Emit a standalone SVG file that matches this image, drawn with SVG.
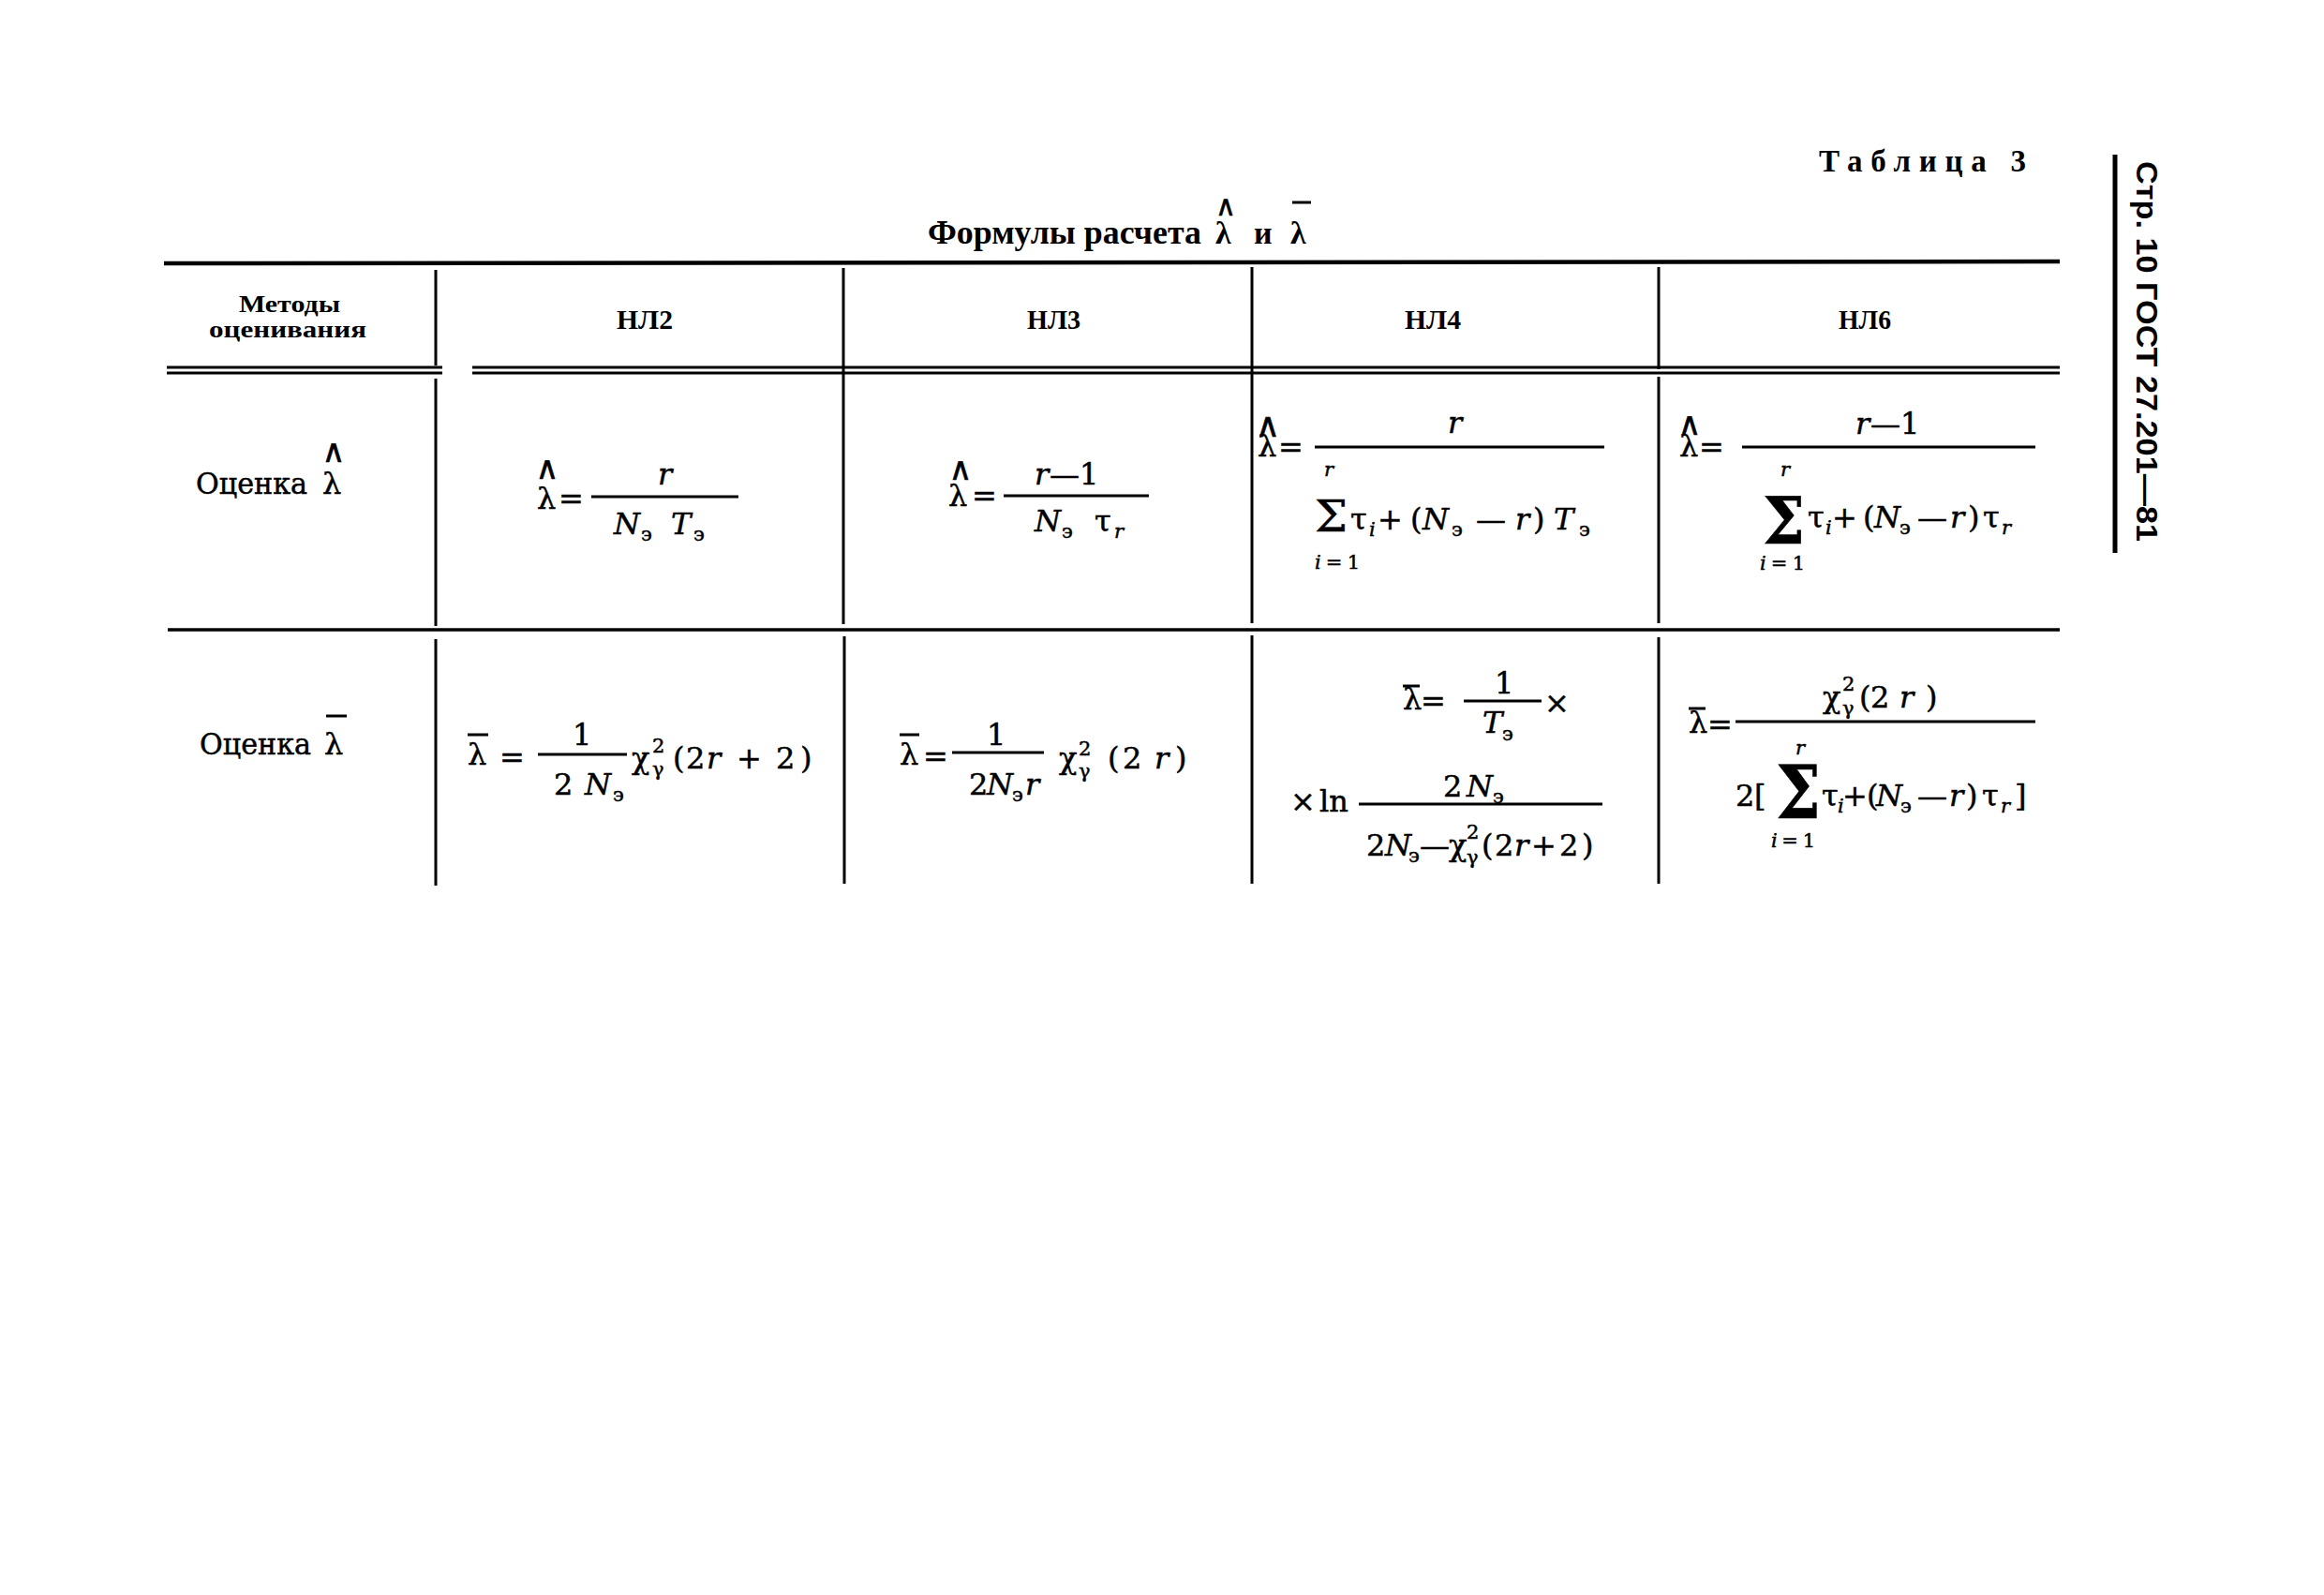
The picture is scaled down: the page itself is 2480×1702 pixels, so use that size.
<svg xmlns="http://www.w3.org/2000/svg" width="2480" height="1702" viewBox="0 0 2480 1702">
<style>
.t{font-family:"DejaVu Serif",serif;font-size:32px;fill:#000;stroke:#000;stroke-width:0.5}
.i{font-style:italic}
.s{font-size:21px}
.hb{font-family:"Liberation Serif",serif;font-weight:bold;font-size:30px;fill:#000}
.hat{font-family:"DejaVu Sans",sans-serif;font-size:34px;text-anchor:middle;fill:#000;stroke:#000;stroke-width:0.6}
.ln line{stroke:#000;fill:none}
.fr{stroke:#000;stroke-width:3}
</style>
<rect width="2480" height="1702" fill="#fff"/>

<g id="table-lines" class="ln">
<line x1="175" y1="281" x2="2198" y2="279" stroke-width="4.5"/>
<line x1="178" y1="392" x2="472" y2="392" stroke-width="3"/>
<line x1="178" y1="398" x2="472" y2="398" stroke-width="3"/>
<line x1="504" y1="392" x2="2198" y2="392" stroke-width="3"/>
<line x1="504" y1="398" x2="2198" y2="398" stroke-width="3"/>
<line x1="179" y1="672" x2="2198" y2="672" stroke-width="3.5"/>
<line x1="465" y1="288" x2="465" y2="390" stroke-width="3"/>
<line x1="465" y1="404" x2="465" y2="668" stroke-width="3"/>
<line x1="465" y1="682" x2="465" y2="945" stroke-width="3"/>
<line x1="900" y1="286" x2="900" y2="666" stroke-width="3"/>
<line x1="901" y1="679" x2="901" y2="943" stroke-width="3"/>
<line x1="1336" y1="285" x2="1336" y2="665" stroke-width="3"/>
<line x1="1336" y1="678" x2="1336" y2="943" stroke-width="3"/>
<line x1="1770" y1="285" x2="1770" y2="394" stroke-width="3"/>
<line x1="1770" y1="402" x2="1770" y2="665" stroke-width="3"/>
<line x1="1770" y1="680" x2="1770" y2="943" stroke-width="3"/>
<line x1="2257" y1="165" x2="2257" y2="590" stroke-width="5"/>
</g>

<g id="page-header">
<text class="hb" x="1941" y="183" style="font-size:33px" textLength="221" lengthAdjust="spacing">Таблица 3</text>
<text transform="translate(2280,172) rotate(90)" font-family="Liberation Sans, sans-serif" font-size="32" font-weight="bold" textLength="406" lengthAdjust="spacingAndGlyphs">Стр. 10 ГОСТ 27.201—81</text>
</g>

<g id="title">
<text class="hb" x="990" y="260" style="font-size:36px" textLength="292" lengthAdjust="spacingAndGlyphs">Формулы расчета</text>
<text class="hb" x="1297" y="260" style="font-size:34px">λ</text>
<text class="hat" x="1308" y="230" style="font-size:30px">∧</text>
<text class="hb" x="1338" y="260" style="font-size:34px">и</text>
<text class="hb" x="1377" y="260" style="font-size:34px">λ</text>
<line class="fr" x1="1379" y1="216" x2="1399" y2="216" stroke-width="4"/>
</g>

<g id="header-row">
<g id="h-methods">
<text class="hb" x="255" y="333" style="font-size:26px" textLength="108" lengthAdjust="spacingAndGlyphs">Методы</text>
<text class="hb" x="223" y="360" style="font-size:26px" textLength="168" lengthAdjust="spacingAndGlyphs">оценивания</text>
</g>
<text id="h-nl2" class="hb" x="658" y="351" textLength="60" lengthAdjust="spacingAndGlyphs">НЛ2</text>
<text id="h-nl3" class="hb" x="1096" y="351" textLength="57" lengthAdjust="spacingAndGlyphs">НЛ3</text>
<text id="h-nl4" class="hb" x="1499" y="351" textLength="60" lengthAdjust="spacingAndGlyphs">НЛ4</text>
<text id="h-nl6" class="hb" x="1962" y="351" textLength="56" lengthAdjust="spacingAndGlyphs">НЛ6</text>
</g>

<g id="row-hat">
<g id="r2c0">
<text class="t" x="209" y="527" textLength="119" lengthAdjust="spacingAndGlyphs">Оценка</text>
<text class="t" x="344" y="527">λ</text>
<text class="hat" x="356" y="493">∧</text>
</g>
<g id="r2c1">
<text class="hat" x="584" y="511">∧</text>
<text class="t" x="573" y="543">λ</text>
<text class="t" x="596" y="543">=</text>
<line class="fr" x1="631" y1="530" x2="788" y2="530"/>
<text class="t i" x="702" y="517">r</text>
<text class="t i" x="655" y="570">N</text>
<text class="t s" x="684" y="577">э</text>
<text class="t i" x="716" y="570">T</text>
<text class="t s" x="740" y="577">э</text>
</g>
<g id="r2c2">
<text class="hat" x="1025" y="512">∧</text>
<text class="t" x="1012" y="540">λ</text>
<text class="t" x="1037" y="540">=</text>
<line class="fr" x1="1071" y1="529" x2="1226" y2="529"/>
<text class="t i" x="1104" y="517">r</text>
<text class="t" x="1120" y="517">—</text>
<text class="t" x="1152" y="517">1</text>
<text class="t i" x="1104" y="567">N</text>
<text class="t s" x="1133" y="574">э</text>
<text class="t" x="1168" y="567">τ</text>
<text class="t i s" x="1189" y="574">r</text>
</g>
<g id="r2c3">
<text class="hat" x="1353" y="466" style="font-size:36px">∧</text>
<text class="t" x="1342" y="487">λ</text>
<text class="t" x="1364" y="488">=</text>
<line class="fr" x1="1403" y1="477" x2="1712" y2="477"/>
<text class="t i" x="1545" y="462">r</text>
<text class="t" x="1403" y="567" style="font-size:46px" textLength="35" lengthAdjust="spacingAndGlyphs">Σ</text>
<text class="t i s" x="1413" y="508">r</text>
<text class="t s" x="1403" y="607" textLength="48" lengthAdjust="spacing"><tspan font-style="italic">i</tspan>=1</text>
<text class="t" x="1441" y="565">τ</text>
<text class="t i s" x="1461" y="572">i</text>
<text class="t" x="1470" y="565">+</text>
<text class="t" x="1505" y="565">(</text>
<text class="t i" x="1518" y="565">N</text>
<text class="t s" x="1549" y="572">э</text>
<text class="t" x="1575" y="565">—</text>
<text class="t i" x="1617" y="565">r</text>
<text class="t" x="1636" y="565">)</text>
<text class="t i" x="1658" y="565">T</text>
<text class="t s" x="1685" y="572">э</text>
</g>
<g id="r2c4">
<text class="hat" x="1803" y="464">∧</text>
<text class="t" x="1792" y="487">λ</text>
<text class="t" x="1813" y="488">=</text>
<line class="fr" x1="1859" y1="477" x2="2172" y2="477"/>
<text class="t i" x="1980" y="463">r</text>
<text class="t" x="1996" y="463">—</text>
<text class="t" x="2028" y="463">1</text>
<text class="t" x="1881" y="580" style="font-size:70px;font-weight:bold" textLength="45" lengthAdjust="spacingAndGlyphs">Σ</text>
<text class="t i s" x="1900" y="508">r</text>
<text class="t s" x="1878" y="608" textLength="48" lengthAdjust="spacing"><tspan font-style="italic">i</tspan>=1</text>
<text class="t" x="1929" y="563">τ</text>
<text class="t i s" x="1948" y="570">i</text>
<text class="t" x="1955" y="563">+</text>
<text class="t" x="1988" y="563">(</text>
<text class="t i" x="2000" y="563">N</text>
<text class="t s" x="2027" y="570">э</text>
<text class="t" x="2046" y="563">—</text>
<text class="t i" x="2081" y="563">r</text>
<text class="t" x="2100" y="563">)</text>
<text class="t" x="2116" y="563">τ</text>
<text class="t i s" x="2136" y="570">r</text>
</g>
</g>

<g id="row-bar">
<g id="r3c0">
<text class="t" x="213" y="805" textLength="119" lengthAdjust="spacingAndGlyphs">Оценка</text>
<text class="t" x="346" y="805">λ</text>
<line class="fr" x1="348" y1="764" x2="370" y2="764"/>
</g>
<g id="r3c1">
<text class="t" x="499" y="816">λ</text>
<line class="fr" x1="499" y1="784" x2="521" y2="784"/>
<text class="t" x="533" y="819">=</text>
<line class="fr" x1="574" y1="805" x2="669" y2="805"/>
<text class="t" x="611" y="795">1</text>
<text class="t" x="591" y="848">2</text>
<text class="t i" x="624" y="848">N</text>
<text class="t s" x="654" y="855">э</text>
<text class="t" x="674" y="820">χ</text>
<text class="t s" x="696" y="803">2</text>
<text class="t s" x="696" y="828">γ</text>
<text class="t" x="718" y="820">(</text>
<text class="t" x="732" y="820">2</text>
<text class="t i" x="754" y="820">r</text>
<text class="t" x="786" y="820">+</text>
<text class="t" x="828" y="820">2</text>
<text class="t" x="854" y="820">)</text>
</g>
<g id="r3c2">
<text class="t" x="960" y="816">λ</text>
<line class="fr" x1="960" y1="784" x2="981" y2="784"/>
<text class="t" x="985" y="818">=</text>
<line class="fr" x1="1016" y1="803" x2="1114" y2="803"/>
<text class="t" x="1053" y="795">1</text>
<text class="t" x="1034" y="848">2</text>
<text class="t i" x="1053" y="848">N</text>
<text class="t s" x="1080" y="855">э</text>
<text class="t i" x="1094" y="848">r</text>
<text class="t" x="1130" y="820">χ</text>
<text class="t s" x="1151" y="806">2</text>
<text class="t s" x="1151" y="830">γ</text>
<text class="t" x="1182" y="820">(</text>
<text class="t" x="1198" y="820">2</text>
<text class="t i" x="1232" y="820">r</text>
<text class="t" x="1254" y="820">)</text>
</g>
<g id="r3c3">
<text class="t" x="1497" y="757">λ</text>
<line class="fr" x1="1497" y1="732" x2="1515" y2="732"/>
<text class="t" x="1516" y="759">=</text>
<line class="fr" x1="1562" y1="748" x2="1645" y2="748"/>
<text class="t" x="1595" y="740">1</text>
<text class="t i" x="1582" y="782">T</text>
<text class="t s" x="1603" y="790">э</text>
<text class="t" x="1648" y="761">×</text>
<text class="t" x="1377" y="866">×</text>
<text class="t" x="1408" y="866">ln</text>
<line class="fr" x1="1450" y1="858" x2="1710" y2="858"/>
<text class="t" x="1540" y="850">2</text>
<text class="t i" x="1565" y="850">N</text>
<text class="t s" x="1593" y="857">э</text>
<text class="t" x="1458" y="913">2</text>
<text class="t i" x="1478" y="913">N</text>
<text class="t s" x="1503" y="920">э</text>
<text class="t" x="1515" y="913">—</text>
<text class="t" x="1546" y="913">χ</text>
<text class="t s" x="1565" y="895">2</text>
<text class="t s" x="1565" y="922">γ</text>
<text class="t" x="1581" y="913">(</text>
<text class="t" x="1595" y="913">2</text>
<text class="t i" x="1616" y="913">r</text>
<text class="t" x="1634" y="913">+</text>
<text class="t" x="1664" y="913">2</text>
<text class="t" x="1688" y="913">)</text>
</g>
<g id="r3c4">
<text class="t" x="1802" y="782">λ</text>
<line class="fr" x1="1802" y1="756" x2="1820" y2="756"/>
<text class="t" x="1822" y="784">=</text>
<line class="fr" x1="1852" y1="770" x2="2172" y2="770"/>
<text class="t" x="1945" y="755">χ</text>
<text class="t s" x="1966" y="737">2</text>
<text class="t s" x="1966" y="763">γ</text>
<text class="t" x="1984" y="755">(</text>
<text class="t" x="1996" y="755">2</text>
<text class="t i" x="2027" y="755">r</text>
<text class="t" x="2055" y="755">)</text>
<text class="t" x="1852" y="860">2</text>
<text class="t" x="1872" y="860">[</text>
<text class="t" x="1895" y="873" style="font-size:78px;font-weight:bold" textLength="48" lengthAdjust="spacingAndGlyphs">Σ</text>
<text class="t i s" x="1916" y="805">r</text>
<text class="t s" x="1890" y="904" textLength="47" lengthAdjust="spacing"><tspan font-style="italic">i</tspan>=1</text>
<text class="t" x="1944" y="860">τ</text>
<text class="t i s" x="1961" y="867">i</text>
<text class="t" x="1966" y="860">+</text>
<text class="t" x="1992" y="860">(</text>
<text class="t i" x="2002" y="860">N</text>
<text class="t s" x="2028" y="867">э</text>
<text class="t" x="2046" y="860">—</text>
<text class="t i" x="2080" y="860">r</text>
<text class="t" x="2098" y="860">)</text>
<text class="t" x="2115" y="860">τ</text>
<text class="t i s" x="2135" y="867">r</text>
<text class="t" x="2150" y="860">]</text>
</g>
</g>
</svg>
